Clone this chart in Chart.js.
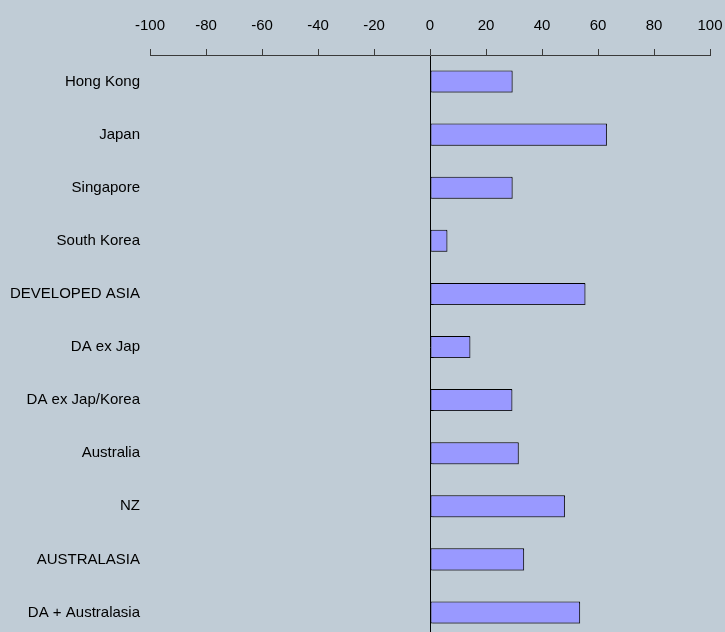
<!DOCTYPE html>
<html>
<head>
<meta charset="utf-8">
<script src="https://cdn.jsdelivr.net/npm/chart.js@4/dist/chart.umd.min.js"></script>
<style>
  html, body { margin: 0; padding: 0; background: #c0ccd6; overflow: hidden; }
  #wrap { width: 725px; height: 639px; position: relative; }
</style>
</head>
<body>
<div id="wrap"><canvas id="myChart"></canvas></div>
<script>
const categories = ['Hong Kong', 'Japan', 'Singapore', 'South Korea', 'DEVELOPED ASIA',
  'DA ex Jap', 'DA ex Jap/Korea', 'Australia', 'NZ', 'AUSTRALASIA', 'DA + Australasia'];
const values = [29.5, 63.2, 29.5, 6.2, 55.5, 14.4, 29.4, 31.7, 48.2, 33.6, 53.6];
const xMin = -100;
const xMax = 100;
const xStep = 20;

const labelFont = { family: "'Liberation Sans Narrow', 'Arial Narrow', 'Liberation Sans', Arial, sans-serif", size: 15 };

// little offset shadow like the original bars
const barShadow = {
  id: 'barShadow',
  beforeDatasetDraw(chart) {
    const ctx = chart.ctx;
    ctx.save();
    ctx.shadowColor = 'rgba(60,60,80,0.55)';
    ctx.shadowOffsetX = 2;
    ctx.shadowOffsetY = 1;
    ctx.shadowBlur = 0;
  },
  afterDatasetDraw(chart) {
    chart.ctx.restore();
  }
};

const myChart = new Chart(document.getElementById('myChart'), {
  type: 'bar',
  data: {
    labels: categories,
    datasets: [{
      data: values,
      backgroundColor: '#9999ff',
      borderColor: '#000000',
      borderWidth: 1,
      borderSkipped: false,
      barPercentage: 22 / 53,
      categoryPercentage: 1
    }]
  },
  options: {
    indexAxis: 'y',
    responsive: true,
    maintainAspectRatio: false,
    animation: false,
    layout: { padding: { left: 0, right: 15, top: 0, bottom: 0 } },
    plugins: { legend: { display: false }, tooltip: { enabled: false } },
    scales: {
      x: {
        position: 'top',
        min: xMin,
        max: xMax,
        ticks: { stepSize: xStep, color: '#000', font: labelFont, padding: 14, maxRotation: 0 },
        grid: {
          drawOnChartArea: true,
          color: ctx => (ctx.tick && ctx.tick.value === 0) ? '#000000' : 'rgba(0,0,0,0)',
          tickColor: '#3a3a3a',
          tickLength: 6,
          lineWidth: 1
        },
        border: { display: true, color: '#3a3a3a', width: 1 },
        afterFit: scale => {
          scale.height = 55;
          scale.paddingLeft = 0;
          scale.paddingRight = 0;
        }
      },
      y: {
        ticks: { color: '#000', font: labelFont, padding: 10 },
        grid: { display: false, drawTicks: false },
        border: { display: false },
        afterFit: scale => {
          scale.width = 150;
          scale.paddingTop = 0;
          scale.paddingBottom = 0;
        }
      }
    }
  },
  plugins: [barShadow]
});
</script>
</body>
</html>
